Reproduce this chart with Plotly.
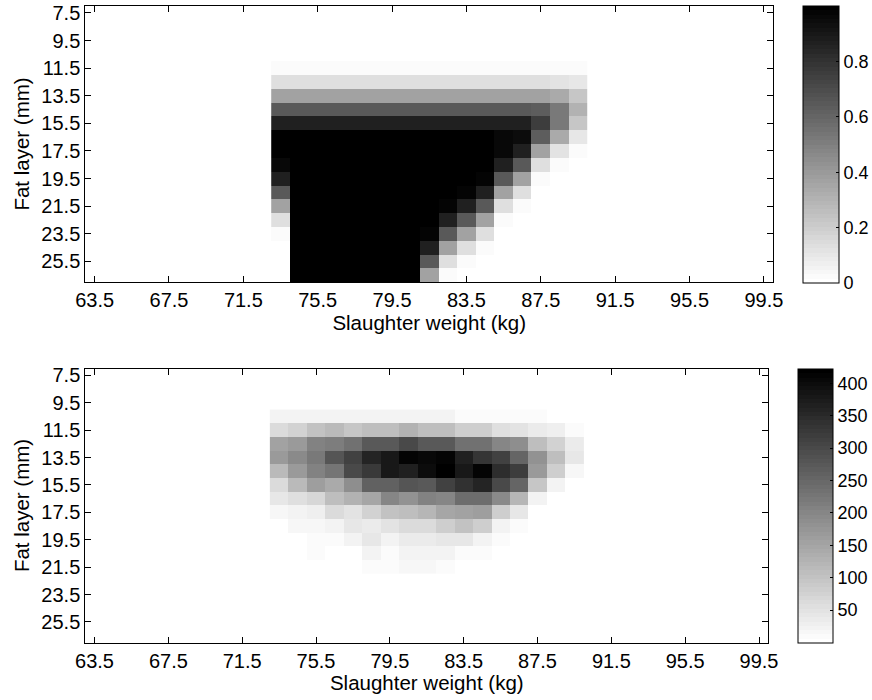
import plotly.graph_objects as go

W, H = 872, 700

weight = [73.5 + i for i in range(17)]
fat_top = [11.5 + i for i in range(16)]
fat_bot = [10.5 + i for i in range(12)]

x_ticks = [63.5, 67.5, 71.5, 75.5, 79.5, 83.5, 87.5, 91.5, 95.5, 99.5]
y_ticks = [7.5, 9.5, 11.5, 13.5, 15.5, 17.5, 19.5, 21.5, 23.5, 25.5]

x_title = "Slaughter weight (kg)"
y_title = "Fat layer (mm)"

prob = [
    [.02]*17,
    [.13]*15 + [.11, .10],
    [.36]*15 + [.34, .23],
    [.65]*14 + [.63, .53, .30],
    [.87]*14 + [.75, .53, .23],
    [.988]*12 + [.96, .945, .63, .33, .10],
    [1.]*12 + [.96, .87, .36, .11, .02],
    [.96] + [1.]*11 + [.87, .65, .13, .02, 0],
    [.87] + [1.]*10 + [.98, .65, .36, .02, 0, 0],
    [.65] + [1.]*9 + [.98, .87, .36, .13, 0, 0, 0],
    [.36] + [1.]*8 + [.97, .87, .65, .13, .02, 0, 0, 0],
    [.13] + [1.]*8 + [.87, .65, .36, .02, 0, 0, 0, 0],
    [.02] + [1.]*7 + [.98, .65, .36, .13, 0, 0, 0, 0, 0],
    [0] + [1.]*7 + [.87, .36, .13, .02, 0, 0, 0, 0, 0],
    [0] + [1.]*7 + [.65, .13, .02, 0, 0, 0, 0, 0, 0],
    [0] + [1.]*7 + [.36, .02, 0, 0, 0, 0, 0, 0, 0],
]

counts = [
    [20, 20, 20, 25, 25, 25, 25, 20, 20, 20, 13, 13, 7, 7, 7, 0, 0],
    [63, 73, 101, 116, 95, 111, 111, 128, 111, 111, 85, 85, 56, 51, 35, 28, 13],
    [154, 166, 207, 212, 237, 274, 274, 299, 277, 274, 237, 237, 204, 191, 111, 78, 35],
    [171, 194, 221, 282, 317, 357, 383, 410, 406, 416, 370, 337, 314, 254, 184, 106, 46],
    [118, 168, 207, 231, 304, 330, 383, 367, 400, 423, 380, 416, 347, 323, 171, 81, 17],
    [63, 118, 161, 144, 191, 264, 264, 282, 277, 317, 343, 357, 300, 254, 98, 22, 0],
    [46, 58, 71, 106, 128, 149, 204, 184, 211, 204, 244, 244, 197, 124, 22, 0, 0],
    [15, 25, 32, 61, 51, 78, 101, 111, 124, 149, 158, 161, 81, 46, 0, 0, 0],
    [0, 15, 15, 25, 46, 38, 51, 65, 65, 85, 101, 85, 25, 8, 0, 0, 0],
    [0, 0, 7, 7, 20, 41, 22, 35, 35, 41, 41, 22, 8, 0, 0, 0, 0],
    [0, 0, 7, 0, 5, 22, 7, 20, 20, 20, 13, 13, 0, 0, 0, 0, 0],
    [0, 0, 0, 0, 0, 7, 7, 15, 15, 7, 0, 0, 0, 0, 0, 0, 0],
]

N = 64
scale = []
for i in range(N):
    g = round(255 * (N - 1 - i) / (N - 1))
    c = f"rgb({g},{g},{g})"
    scale += [[i / N, c], [(i + 1) / N, c]]

FONT = "Liberation Sans"
TICK_FS = 20
TITLE_FS = 20.5
CB_FS = 18


def xdom(a, b):
    return [a / W, b / W]


def ydom(t, b):
    return [1 - b / H, 1 - t / H]


axis_common = dict(
    showgrid=False, zeroline=False, showline=True, linecolor="black", linewidth=1,
    mirror="ticks", ticks="inside", ticklen=6, tickwidth=1, tickcolor="black",
    tickfont=dict(family=FONT, size=TICK_FS, color="black"), tickmode="array",
    automargin=False,
)
title_font = dict(family=FONT, size=TITLE_FS, color="black")
x_title_cfg = dict(text=x_title, font=title_font, standoff=3)
y_title_cfg = dict(text=y_title, font=title_font, standoff=6)

fig = go.Figure()
fig.add_trace(go.Heatmap(x=weight, y=fat_top, z=prob, coloraxis="coloraxis", xaxis="x", yaxis="y"))
fig.add_trace(go.Heatmap(x=weight, y=fat_bot, z=counts, coloraxis="coloraxis2", xaxis="x2", yaxis="y2"))


def cbar(x0, x1, top, bottom, vals, texts):
    return dict(
        x=x0 / W, xanchor="left", xpad=0, y=1 - top / H, yanchor="top", ypad=0,
        thicknessmode="pixels", thickness=x1 - x0, lenmode="pixels", len=bottom - top,
        outlinecolor="black", outlinewidth=1, ticks="inside", ticklen=3, tickwidth=1,
        tickcolor="black", tickmode="array", tickvals=vals, ticktext=texts,
        tickfont=dict(family=FONT, size=CB_FS, color="black"),
    )


cb1_ticks = [0, 0.2, 0.4, 0.6, 0.8]
cb2_ticks = [50, 100, 150, 200, 250, 300, 350, 400]

fig.update_layout(
    width=W, height=H, margin=dict(l=0, r=0, t=0, b=0), autosize=False,
    paper_bgcolor="white", plot_bgcolor="white",
    font=dict(family=FONT, size=TITLE_FS, color="black"),
    xaxis=dict(domain=xdom(85.5, 775), range=[63, 100], tickvals=x_ticks, anchor="y",
               ticktext=[str(v) for v in x_ticks], title=x_title_cfg, **axis_common),
    yaxis=dict(domain=ydom(6, 282), range=[27, 7], tickvals=y_ticks, anchor="x",
               ticktext=[str(v) for v in y_ticks], title=y_title_cfg, **axis_common),
    xaxis2=dict(domain=xdom(85.5, 770), range=[63, 100], tickvals=x_ticks, anchor="y2",
                ticktext=[str(v) for v in x_ticks], title=x_title_cfg, **axis_common),
    yaxis2=dict(domain=ydom(368.5, 642.5), range=[27, 7], tickvals=y_ticks, anchor="x2",
                ticktext=[str(v) for v in y_ticks], title=y_title_cfg, **axis_common),
    coloraxis=dict(colorscale=scale, cmin=0, cmax=1,
                   colorbar=cbar(804.5, 840, 6, 282.5, cb1_ticks, ["0", "0.2", "0.4", "0.6", "0.8"])),
    coloraxis2=dict(colorscale=scale, cmin=0, cmax=423,
                    colorbar=cbar(800, 835, 368.5, 642.5, cb2_ticks, [str(v) for v in cb2_ticks])),
)

fig.write_html("out.html", config=dict(displayModeBar=False),
               post_script="document.body.style.margin='0';")
